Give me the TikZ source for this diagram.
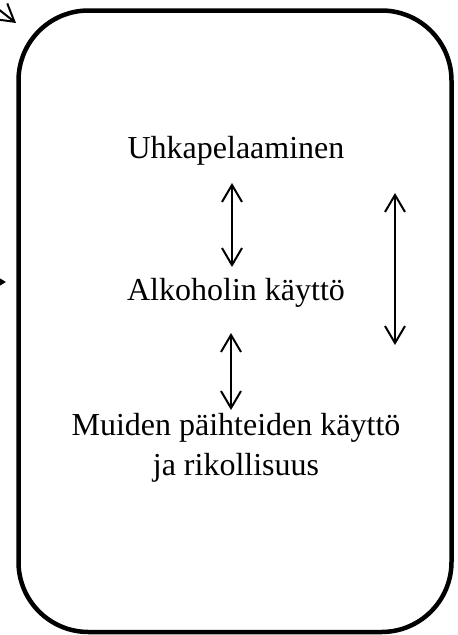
\documentclass[tikz,border=0pt]{standalone}
\usepackage{fontspec}
\setmainfont{Liberation Serif}
\usetikzlibrary{arrows.meta}
\begin{document}
\begin{tikzpicture}[x=1pt,y=-1pt,
  lbl/.style={font=\fontsize{32}{40}\selectfont, inner sep=0pt, anchor=base, align=center},
  dbl/.style={line width=2pt, {Straight Barb[length=17pt,width=20pt]}-{Straight Barb[length=17pt,width=20pt]}},
  frame/.style={line width=4.5pt, rounded corners=70pt}]
\useasboundingbox (0,0) rectangle (458,635);
\begin{scope}
\clip (0,0) rectangle (458,635);
\draw[frame] (18.5,10.5) rectangle (451.5,632);
\coordinate (tlA) at (-26,-10);
\coordinate (tlB) at (16,23);
\draw[line width=2pt, -{Straight Barb[length=17pt,width=20pt]}] (tlA) -- (tlB);
\coordinate (lA) at (-30,282);
\coordinate (lB) at (6,282);
\draw[line width=2pt, -{Triangle[length=8pt,width=9pt]}] (lA) -- (lB);
\end{scope}
\node[lbl] (u) at (236,158) {Uhkapelaaminen};
\node[lbl] (a) at (236,300) {Alkoholin käyttö};
\node[lbl] (m) at (236,475) {Muiden päihteiden käyttö\\ja rikollisuus};
\coordinate (a1t) at (232,183);
\coordinate (a1b) at (232,267);
\coordinate (a2t) at (231,333);
\coordinate (a2b) at (231,410);
\coordinate (a3t) at (395,193);
\coordinate (a3b) at (395,345);
\draw[dbl] (a1t) -- (a1b);
\draw[dbl] (a2t) -- (a2b);
\draw[dbl] (a3t) -- (a3b);
\end{tikzpicture}
\end{document}
